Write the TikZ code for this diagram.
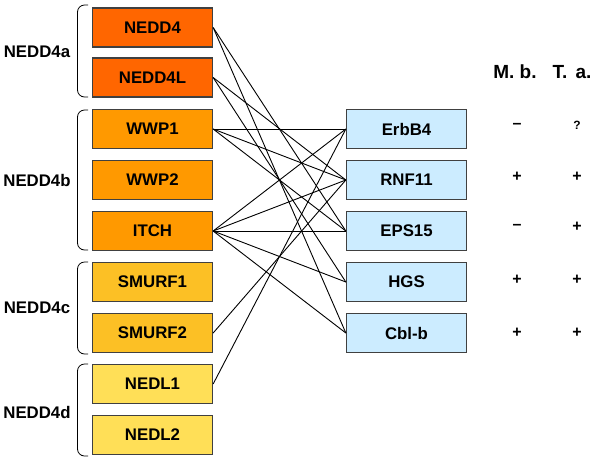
\documentclass[tikz,border=0pt]{standalone}
\usepackage{fontspec}
\setmainfont{Liberation Sans}
\definecolor{cA}{HTML}{FF6600}
\definecolor{cB}{HTML}{FF9900}
\definecolor{cC}{HTML}{FCC025}
\definecolor{cD}{HTML}{FFDF57}
\definecolor{cE}{HTML}{CCECFF}
\definecolor{edge}{HTML}{404040}
\begin{document}
\begin{tikzpicture}[x=1pt,y=-1pt,
  box/.style={draw=edge, line width=1.3pt, minimum width=120pt, minimum height=39pt, inner sep=0pt,
    font=\fontsize{16.8}{18}\selectfont\bfseries},
  grp/.style={font=\fontsize{16.8}{18}\selectfont\bfseries, inner sep=0pt},
  hdr/.style={font=\fontsize{19}{20}\selectfont\bfseries, inner sep=0pt},
  sym/.style={font=\fontsize{16}{17}\selectfont\bfseries, inner sep=0pt},
  brk/.style={draw=black, line width=0.8pt, rounded corners=7pt},
  link/.style={draw=black, line width=0.9pt}]
\useasboundingbox (0,0) rectangle (600,459);
% left boxes
\node[box, fill=cA] (nedd4)  at (152.5,27.5) {NEDD4};
\node[box, fill=cA] (nedd4l) at (152.5,77.5) {NEDD4L};
\node[box, fill=cB] (wwp1)   at (152.5,129) {WWP1};
\node[box, fill=cB] (wwp2)   at (152.5,180) {WWP2};
\node[box, fill=cB] (itch)   at (152.5,231) {ITCH};
\node[box, fill=cC] (smurf1) at (152.5,282) {SMURF1};
\node[box, fill=cC] (smurf2) at (152.5,333) {SMURF2};
\node[box, fill=cD] (nedl1)  at (152.5,384) {NEDL1};
\node[box, fill=cD] (nedl2)  at (152.5,435) {NEDL2};
% right boxes
\node[box, fill=cE] (erbb4) at (406.5,129) {ErbB4};
\node[box, fill=cE] (rnf11) at (406.5,180) {RNF11};
\node[box, fill=cE] (eps15) at (406.5,231) {EPS15};
\node[box, fill=cE] (hgs)   at (406.5,282) {HGS};
\node[box, fill=cE] (cblb)  at (406.5,333) {Cbl-b};
% group labels
\node[grp] (ga) at (37,52) {NEDD4a};
\node[grp] (gb) at (37,180) {NEDD4b};
\node[grp] (gc) at (37,308) {NEDD4c};
\node[grp] (gd) at (37,412) {NEDD4d};
% brackets
\draw[brk] (88,5) -- (77.5,5) -- (77.5,97) -- (88,97);
\draw[brk] (88,110) -- (77.5,110) -- (77.5,250) -- (88,250);
\draw[brk] (88,262) -- (77.5,262) -- (77.5,354) -- (88,354);
\draw[brk] (88,364) -- (77.5,364) -- (77.5,456) -- (88,456);
% connectors
\draw[link] (nedd4.east) -- (eps15.west);
\draw[link] (nedd4.east) -- (cblb.west);
\draw[link] (nedd4l.east) -- (rnf11.west);
\draw[link] (nedd4l.east) -- (hgs.west);
\draw[link] (wwp1.east) -- (erbb4.west);
\draw[link] (wwp1.east) -- (rnf11.west);
\draw[link] (wwp1.east) -- (eps15.west);
\draw[link] (itch.east) -- (erbb4.west);
\draw[link] (itch.east) -- (rnf11.west);
\draw[link] (itch.east) -- (eps15.west);
\draw[link] (itch.east) -- (hgs.west);
\draw[link] (itch.east) -- (cblb.west);
\draw[link] (smurf2.east) -- (rnf11.west);
\draw[link] (nedl1.east) -- (erbb4.west);
% headers
\node[hdr] (mb) at (515,72) {M. b.};
\node[hdr] (ta) at (572,72) {T.\hspace{3pt} a.};
% table symbols
\node[sym] (m1) at (517,126) {–};
\node[sym, font=\fontsize{12}{13}\selectfont\bfseries] (t1) at (577,125) {?};
\node[sym] (m2) at (517,177) {+};
\node[sym] (t2) at (577,177) {+};
\node[sym] (m3) at (517,227) {–};
\node[sym] (t3) at (577,227) {+};
\node[sym] (m4) at (517,280) {+};
\node[sym] (t4) at (577,280) {+};
\node[sym] (m5) at (517,333) {+};
\node[sym] (t5) at (577,333) {+};
\end{tikzpicture}
\end{document}
